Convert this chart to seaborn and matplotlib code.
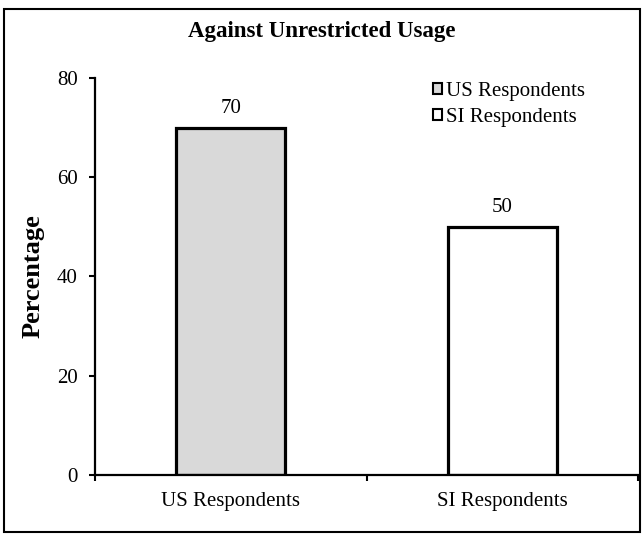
import matplotlib
matplotlib.use("Agg")
import matplotlib.pyplot as plt
from matplotlib.patches import Patch, Rectangle
import seaborn as sns
import pandas as pd

categories = ["US Respondents", "SI Respondents"]
percentages = [70, 50]
bar_colors = ["#d9d9d9", "#ffffff"]
y_ticks = [0, 20, 40, 60, 80]

sns.set_theme(style="white")
plt.rcParams["font.family"] = ["Liberation Serif", "DejaVu Serif"]
plt.rcParams.update({
    "text.color": "black",
    "axes.labelcolor": "black",
    "xtick.color": "black",
    "ytick.color": "black",
})

df = pd.DataFrame({"group": categories, "pct": percentages})

fig = plt.figure(figsize=(6.43, 5.34), dpi=100)
ax = fig.add_axes([95 / 643, 59 / 534, (638 - 95) / 643, (475 - 78) / 534])

sns.barplot(data=df, x="group", y="pct", hue="group", palette=bar_colors,
            width=0.4, edgecolor="black", linewidth=2.3, legend=False, ax=ax)

tick_fs = 15
ax.set_ylim(0, 80)
ax.set_xlim(-0.5, 1.5)
ax.set_yticks(y_ticks)
ax.set_yticklabels([str(v) for v in y_ticks], fontsize=tick_fs)
ax.set_xticks([0, 1])
ax.set_xticklabels(categories, fontsize=tick_fs)
ax.set_xticks([-0.5, 0.5, 1.5], minor=True)
ax.tick_params(axis="x", which="major", bottom=True, length=0, pad=12)
ax.tick_params(axis="x", which="minor", bottom=True, direction="out",
               length=4.5, width=1.5, color="black")
ax.tick_params(axis="y", left=True, direction="out", length=4.5, width=1.5,
               color="black", pad=8)
ax.set_xlabel("")
ax.set_ylabel("Percentage", fontsize=19, fontweight="bold", labelpad=9)

for s in ["top", "right"]:
    ax.spines[s].set_visible(False)
for s in ["left", "bottom"]:
    ax.spines[s].set_color("black")
    ax.spines[s].set_linewidth(1.6)

for i, v in enumerate(percentages):
    ax.annotate(str(v), (i, v), xytext=(0, 7), textcoords="offset points",
                ha="center", va="bottom", fontsize=tick_fs)

handles = [Patch(facecolor=c, edgecolor="black", linewidth=1.5) for c in bar_colors]
ax.legend(handles, categories, loc="upper left", bbox_to_anchor=(0.607, 1.012),
          frameon=False, fontsize=tick_fs, handlelength=0.45, handleheight=0.45,
          handletextpad=0.2, labelspacing=0.35, borderaxespad=0)

fig.suptitle("Against Unrestricted Usage", fontsize=16.5, fontweight="bold",
             x=0.5, y=1 - 32 / 534, va="center")

fig.patches.append(Rectangle((4 / 643, 2 / 534), 636 / 643, 523 / 534,
                             transform=fig.transFigure, fill=False,
                             edgecolor="black", linewidth=1.5))

fig.savefig("out.png", dpi=100)
